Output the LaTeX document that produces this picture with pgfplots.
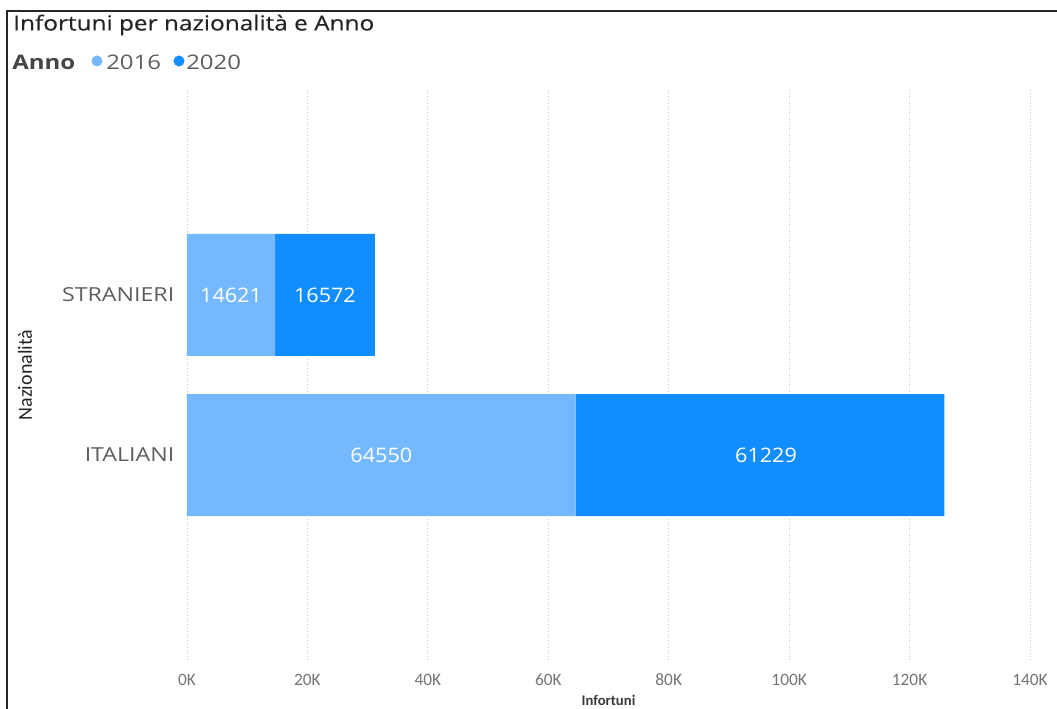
\documentclass[border=0pt]{standalone}
\usepackage{pgfplots}
\pgfplotsset{compat=1.18}
\usepackage{fontspec}
\setmainfont{Open Sans}
\newfontfamily\wide{Open Sans}[FakeStretch=1.18, FakeBold=0.4]
\newfontfamily\widelab{Open Sans}[FakeStretch=1.2]
\newfontfamily\widenum{Open Sans}[FakeStretch=1.08]
\newfontfamily\tickfont{Carlito}
\definecolor{c16}{RGB}{116,185,255}
\definecolor{c20}{RGB}{17,141,255}
\definecolor{titlec}{RGB}{37,36,35}
\definecolor{labc}{RGB}{96,94,92}
\definecolor{tickc}{RGB}{118,116,114}
\definecolor{gridc}{RGB}{200,200,200}
\begin{document}
\begin{tikzpicture}[x=0.75pt,y=0.75pt]
\path[use as bounding box] (0,0) rectangle (1057,709);
\draw[line width=2pt, black!85] (7,0) -- (7,698) -- (1057,698);
% title and legend
\node[anchor=west, inner sep=0, text=titlec, font=\wide\fontsize{15.5pt}{18pt}\selectfont] at (13,684) {Infortuni per nazionalità e Anno};
\node[anchor=west, inner sep=0, text=titlec!85, font=\widelab\fontsize{15pt}{18pt}\selectfont\bfseries] at (12,647) {Anno};
\fill[c16] (97,648) circle (5.5);
\node[anchor=west, inner sep=0, text=labc, font=\widelab\fontsize{15pt}{18pt}\selectfont] at (106,647) {2016};
\fill[c20] (179,648) circle (5.5);
\node[anchor=west, inner sep=0, text=labc, font=\widelab\fontsize{15pt}{18pt}\selectfont] at (186,647) {2020};
\begin{axis}[
  at={(140.25pt,36.75pt)}, anchor=south west,
  scale only axis, width=632.25pt, height=427.5pt,
  xbar stacked, bar width=91.5pt,
  xmin=0, xmax=140000, ymin=-1.28, ymax=2.28,
  axis line style={draw=none}, tick style={draw=none},
  scaled x ticks=false,
  xtick={0,20000,40000,60000,80000,100000,120000,140000},
  xticklabels={0K,20K,40K,60K,80K,100K,120K,140K},
  xticklabel style={anchor=center, yshift=-15pt, text=tickc, font=\tickfont\fontsize{13pt}{15pt}\selectfont},
  ytick={0,1}, yticklabels={ITALIANI,STRANIERI},
  yticklabel style={anchor=east, xshift=-6pt, text=labc, font=\widelab\fontsize{14.5pt}{17pt}\selectfont},
  xmajorgrids, major grid style={gridc, dotted, line width=0.6pt},
  xlabel={Infortuni}, ylabel={Nazionalità},
  xlabel style={at={(axis description cs:0.5,-0.0702)}, anchor=center, text=titlec!90, font=\tickfont\bfseries\fontsize{11pt}{13pt}\selectfont},
  ylabel style={at={(axis description cs:-0.1922,0.5)}, anchor=center, rotate=0, text=titlec, font=\tickfont\fontsize{15pt}{17pt}\selectfont},
]
\addplot[fill=c16, draw=none] coordinates {(64550,0) (14621,1)};
\addplot[fill=c20, draw=none] coordinates {(61229,0) (16572,1)};
\end{axis}
\begin{axis}[
  at={(140.25pt,36.75pt)}, anchor=south west,
  scale only axis, width=632.25pt, height=427.5pt,
  xmin=0, xmax=140000, ymin=-1.28, ymax=2.28,
  hide axis,
]
\addplot[draw=none, mark=none, nodes near coords, point meta=explicit symbolic,
  nodes near coords style={anchor=center, text=white, font=\widenum\fontsize{15pt}{18pt}\selectfont}]
  coordinates {(7310.5,1) [14621] (22906.5,1) [16572] (32275,0) [64550] (96164.5,0) [61229]};
\end{axis}
\end{tikzpicture}
\end{document}
